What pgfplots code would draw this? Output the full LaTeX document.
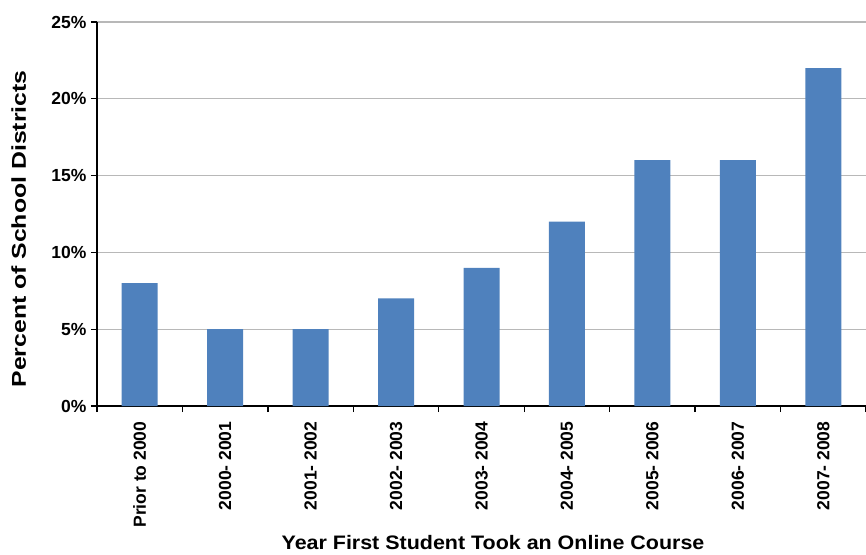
\documentclass[border=0pt]{standalone}
\usepackage{graphicx}
\usepackage{pgfplots}
\pgfplotsset{compat=1.18}
\usepackage{fontspec}
\setmainfont{Liberation Sans}
\definecolor{barblue}{HTML}{4F81BD}
\definecolor{gridgray}{HTML}{B8B8B8}
\begin{document}
\begin{tikzpicture}
\begin{axis}[
  at={(0pt,0pt)}, anchor=south west,
  scale only axis,
  width=769pt, height=384pt,
  xmin=-0.5, xmax=8.5,
  ymin=0, ymax=25,
  axis x line*=bottom, axis y line*=left,
  axis line style={line width=1.6pt, black, -},
  ybar, bar width=36pt,
  xtick={-0.5,0.5,...,8.5},
  x tick label as interval,
  xticklabels={Prior to 2000,2000- 2001,2001- 2002,2002- 2003,2003- 2004,2004- 2005,2005- 2006,2006- 2007,2007- 2008},
  ytick={0,5,...,25},
  yticklabels={0\%,5\%,10\%,15\%,20\%,25\%},
  tick style={line width=1.4pt, black},
  major tick length=6pt,
  tick align=outside,
  ymajorgrids,
  major grid style={gridgray, line width=1.3pt},
  x tick label style={rotate=90, anchor=east, font=\fontsize{17.5}{20}\selectfont\bfseries, xshift=-6pt},
  y tick label style={font=\fontsize{17.5}{20}\selectfont\bfseries, xshift=-1pt},
  xlabel={\scalebox{1.1}[1]{Year First Student Took an Online Course}},
  ylabel={\scalebox{1.24}[1]{Percent of School Districts}},
  xlabel style={at={(rel axis cs:0,0)}, anchor=base, xshift=396pt, yshift=-143pt, font=\fontsize{19.5}{22}\selectfont\bfseries},
  ylabel style={at={(rel axis cs:0,0)}, anchor=base, xshift=177pt, yshift=71pt, font=\fontsize{20}{23}\selectfont\bfseries},
  clip=false,
]
\addplot[fill=barblue, draw=none] coordinates {(0,8) (1,5) (2,5) (3,7) (4,9) (5,12) (6,16) (7,16) (8,22)};
\end{axis}
\pgfresetboundingbox
\path (-97pt,-148pt) rectangle (769pt,406pt);
\end{tikzpicture}
\end{document}
